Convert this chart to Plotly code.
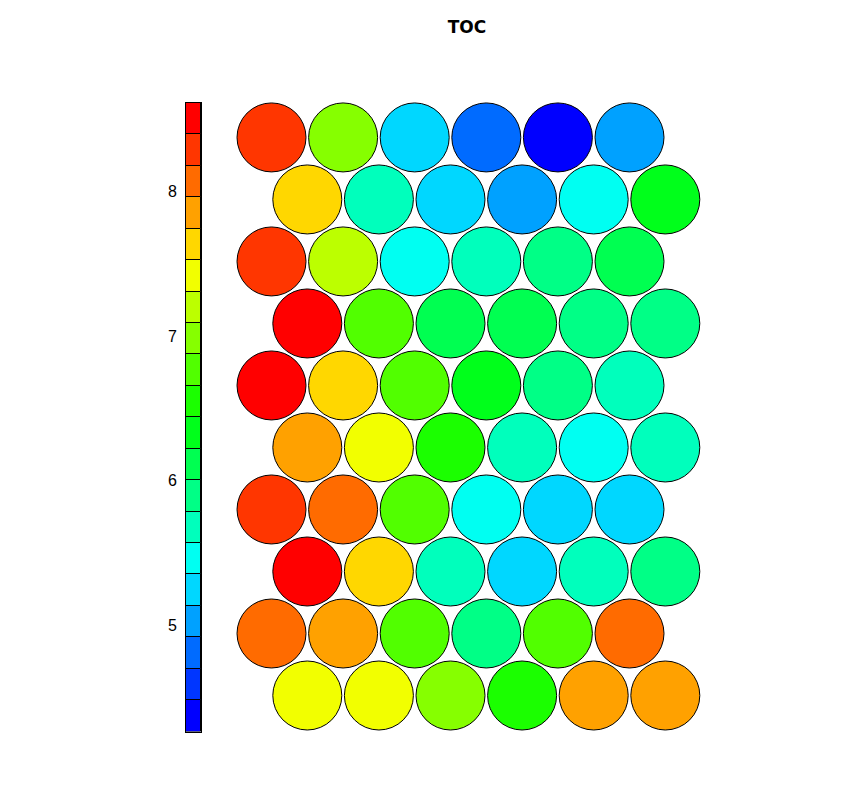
import colorsys
import numpy as np
import plotly.graph_objects as go

# ---------------- data ----------------
title = "TOC"
n_cols = 6
n_rows = 10
# TOC values of the map units, rows listed from the top row of the picture to the bottom row
row_values_top_to_bottom = [
    [8.29, 6.98, 5.24, 4.81, 4.37, 5.03],
    [7.63, 5.68, 5.24, 5.03, 5.46, 6.33],
    [8.29, 7.20, 5.46, 5.68, 5.90, 6.11],
    [8.50, 6.77, 6.11, 6.11, 5.90, 5.90],
    [8.50, 7.63, 6.77, 6.33, 5.90, 5.68],
    [7.85, 7.42, 6.55, 5.68, 5.46, 5.68],
    [8.29, 8.07, 6.77, 5.46, 5.24, 5.24],
    [8.50, 7.63, 5.68, 5.24, 5.68, 5.90],
    [8.07, 7.85, 6.77, 5.90, 6.77, 8.07],
    [7.42, 7.42, 6.98, 6.55, 7.85, 7.85],
]
value_min = 4.265
value_max = 8.612
n_levels = 20
colorbar_ticks = [5, 6, 7, 8]

# ---------------- palette (rainbow from blue to red) ----------------
def hex_color(h):
    r, g, b = colorsys.hsv_to_rgb(h, 1, 1)
    return "#%02x%02x%02x" % (round(r * 255), round(g * 255), round(b * 255))

palette = [hex_color((4 / 6) * (1 - k / (n_levels - 1))) for k in range(n_levels)]
colorscale = []
for k, c in enumerate(palette):
    colorscale.append([k / n_levels, c])
    colorscale.append([(k + 1) / n_levels, c])

# ---------------- hexagonal grid positions ----------------
xs, ys, vs = [], [], []
for top_idx, row in enumerate(row_values_top_to_bottom):
    r = n_rows - 1 - top_idx
    offset = 0.5 if top_idx % 2 == 1 else 0.0
    for c, v in enumerate(row):
        xs.append(c + offset)
        ys.append(r * np.sqrt(3) / 2)
        vs.append(v)

W, H = 860, 796
px_unit = 71.6  # pixels per grid unit
x_left_px, x_right_px = 230, 710
y_top_px, y_bot_px = 100, 735
x0_px, y0_px = 271.5, 695.5  # pixel of grid point (0, 0)

fig = go.Figure()
fig.add_trace(go.Scatter(
    x=xs, y=ys, mode="markers",
    marker=dict(size=69, color=vs, colorscale=colorscale, cmin=value_min, cmax=value_max,
                line=dict(color="black", width=1), showscale=False),
    hoverinfo="text", text=[f"{v:.2f}" for v in vs], showlegend=False,
    xaxis="x", yaxis="y",
))

# colour key drawn as stacked bars
edges = np.linspace(value_min, value_max, n_levels + 1)
fig.add_trace(go.Bar(
    x=[0.5] * n_levels, y=np.diff(edges), base=edges[:-1], width=1,
    marker=dict(color=palette, line=dict(color="black", width=1)),
    showlegend=False, hoverinfo="skip", xaxis="x2", yaxis="y2",
))

fig.update_layout(
    width=W, height=H,
    margin=dict(l=0, r=0, t=0, b=0),
    paper_bgcolor="white", plot_bgcolor="white",
    title=dict(text="<b>" + title + "</b>", x=467 / W, xanchor="center", y=1 - 27 / H, yanchor="middle",
               font=dict(family="DejaVu Sans", size=17, color="black")),
    xaxis=dict(domain=[x_left_px / W, x_right_px / W],
               range=[(x_left_px - x0_px) / px_unit, (x_right_px - x0_px) / px_unit],
               visible=False, fixedrange=True),
    yaxis=dict(domain=[(H - y_bot_px) / H, (H - y_top_px) / H],
               range=[(y0_px - y_bot_px) / px_unit, (y0_px - y_top_px) / px_unit],
               visible=False, fixedrange=True),
    xaxis2=dict(domain=[186 / W, 201 / W], range=[0, 1], anchor="y2", fixedrange=True,
                showline=True, mirror=True, linecolor="black", linewidth=1,
                showticklabels=False, ticks="", showgrid=False, zeroline=False),
    yaxis2=dict(domain=[(H - 731.5) / H, (H - 103) / H], range=[value_min, value_max], anchor="x2",
                side="left", tickvals=colorbar_ticks, ticks="", showgrid=False, zeroline=False,
                showline=True, mirror=True, linecolor="black", linewidth=1,
                ticklabelstandoff=5, fixedrange=True,
                tickfont=dict(family="Liberation Sans", size=16, color="black")),
    bargap=0,
)

fig.write_html("out.html")
